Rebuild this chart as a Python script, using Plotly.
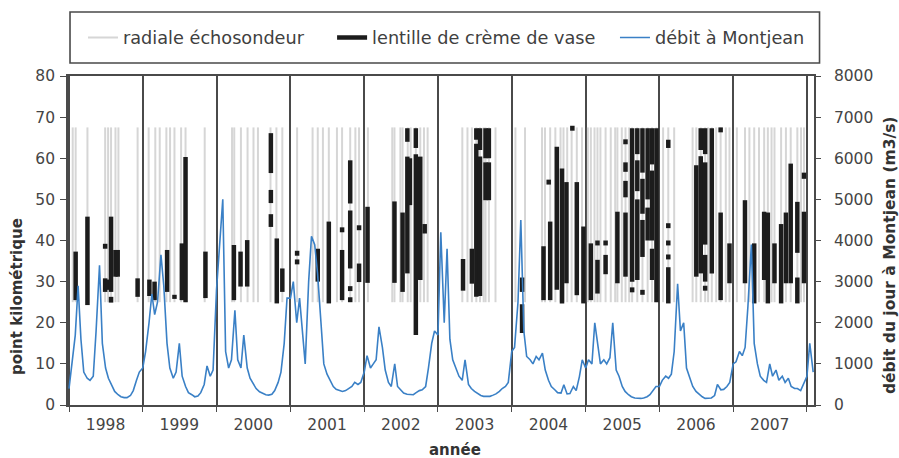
import pandas as pd
import plotly.graph_objects as go

# ---------------- data ----------------
years = [1998, 1999, 2000, 2001, 2002, 2003, 2004, 2005, 2006, 2007]
year_labels = ["1998", "1999", "2000", "2001", "2002", "2003", "2004", "2005", "2006", "2007"]

# daily discharge at Montjean (m3/s), read on the 1st and 15th of each month
flow_1998 = [400, 1000, 1700, 2900, 1600, 800, 650, 600, 700, 1800, 3400, 1500,
             900, 650, 450, 330, 250, 200, 180, 180, 230, 350, 600, 800]
flow_1999 = [900, 1300, 2000, 2700, 2200, 2500, 3650, 2900, 1500, 900, 650, 800,
             1500, 700, 450, 300, 250, 200, 220, 300, 500, 950, 700, 850]
flow_2000 = [2800, 3800, 5000, 1300, 900, 1100, 2300, 1100, 900, 1700, 900, 650,
             500, 400, 320, 280, 250, 240, 260, 350, 550, 800, 1500, 2600]
flow_2001 = [2600, 3000, 2000, 2600, 1800, 1000, 3000, 4100, 3900, 3200, 2000, 1000,
             750, 600, 450, 380, 350, 330, 350, 400, 450, 550, 500, 550]
flow_2002 = [800, 1200, 900, 1000, 1100, 1900, 1400, 850, 550, 450, 1000, 450,
             350, 290, 260, 250, 250, 300, 350, 370, 450, 900, 1500, 1800]
flow_2003 = [1700, 4200, 2000, 3800, 1600, 1100, 850, 700, 600, 1100, 500, 400,
             330, 280, 230, 210, 200, 210, 240, 270, 330, 400, 450, 550]
flow_2004 = [1300, 1400, 2500, 4500, 1800, 1180, 1100, 1000, 1180, 1100, 1260, 850,
             600, 450, 370, 300, 290, 490, 270, 280, 450, 350, 690, 1100]
flow_2005 = [900, 1100, 1000, 2000, 1500, 1000, 1100, 1000, 1150, 2000, 850, 700,
             450, 330, 250, 200, 170, 160, 160, 170, 200, 250, 350, 450]
flow_2006 = [450, 600, 700, 650, 750, 1300, 2950, 1800, 2000, 900, 650, 450,
             330, 260, 200, 160, 160, 170, 230, 500, 370, 380, 450, 550]
flow_2007 = [1000, 1050, 1300, 1200, 1400, 2400, 3900, 1500, 1000, 700, 600, 550,
             1000, 700, 850, 600, 700, 550, 650, 450, 400, 400, 350, 500]
flow_2008 = [700, 1500, 800]

# echo-sounder radials (survey dates as decimal years), surveyed stretch in km
radial_years = [
    1998.05, 1998.09, 1998.25, 1998.49, 1998.53, 1998.57, 1998.63, 1998.67, 1998.93,
    1999.08, 1999.17, 1999.23, 1999.32, 1999.37, 1999.43, 1999.52, 1999.58, 1999.84,
    2000.21, 2000.24, 2000.33, 2000.42, 2000.50, 2000.56, 2000.73, 2000.81, 2000.89,
    2001.09, 2001.30, 2001.37, 2001.44, 2001.52, 2001.63, 2001.70, 2001.81, 2001.88, 2001.93,
    2002.05, 2002.38, 2002.41, 2002.49, 2002.52, 2002.59, 2002.63, 2002.70, 2002.76, 2002.81, 2002.86,
    2003.33, 2003.40, 2003.46, 2003.52, 2003.57, 2003.62, 2003.645, 2003.69, 2003.78,
    2004.05, 2004.18, 2004.41, 2004.45, 2004.52, 2004.59, 2004.66, 2004.70, 2004.75, 2004.81, 2004.88, 2004.95,
    2005.03, 2005.07, 2005.12, 2005.16, 2005.20, 2005.27, 2005.34, 2005.40, 2005.43, 2005.49,
    2005.54, 2005.59, 2005.63, 2005.70, 2005.77, 2005.84, 2005.90, 2005.96,
    2006.05, 2006.12, 2006.20, 2006.45, 2006.50, 2006.56, 2006.62, 2006.66, 2006.71, 2006.77,
    2006.83, 2006.90, 2006.95,
    2007.05, 2007.16, 2007.22, 2007.285, 2007.35, 2007.42, 2007.47, 2007.52, 2007.56, 2007.65,
    2007.715, 2007.78, 2007.87, 2007.92, 2007.96,
]
radial_from_km = 25.0
radial_to_km = 67.5

# fluid-mud lens detections: date (decimal year), lower and upper km
lens_years = [
    1998.09, 1998.25, 1998.49, 1998.49, 1998.53, 1998.57, 1998.57, 1998.63, 1998.66, 1998.93,
    1999.09, 1999.16, 1999.33, 1999.43, 1999.53, 1999.58, 1999.85,
    2000.235, 2000.325, 2000.415, 2000.735, 2000.735, 2000.735, 2000.815, 2000.89,
    2001.09, 2001.09, 2001.37, 2001.52, 2001.70, 2001.70, 2001.81, 2001.81, 2001.81, 2001.81,
    2001.93, 2001.93,
    2002.045, 2002.41, 2002.52, 2002.585, 2002.585, 2002.62, 2002.70, 2002.70, 2002.76, 2002.82,
    2003.34, 2003.46, 2003.52, 2003.52, 2003.57, 2003.57, 2003.645, 2003.645, 2003.69, 2003.69,
    2004.14, 2004.14, 2004.43, 2004.50, 2004.52, 2004.61, 2004.68, 2004.74, 2004.82, 2004.88, 2004.97,
    2005.07, 2005.16, 2005.16, 2005.27, 2005.27, 2005.43, 2005.54, 2005.54, 2005.54, 2005.54,
    2005.63, 2005.63, 2005.70, 2005.70, 2005.70, 2005.77, 2005.77, 2005.77, 2005.77,
    2005.84, 2005.84, 2005.90, 2005.90, 2005.90, 2005.96,
    2006.12, 2006.12, 2006.12, 2006.12, 2006.12, 2006.50, 2006.56, 2006.56, 2006.62, 2006.62,
    2006.62, 2006.62, 2006.71, 2006.83, 2006.83, 2006.95,
    2007.16, 2007.285, 2007.42, 2007.47, 2007.56, 2007.65, 2007.715, 2007.78, 2007.87, 2007.87,
    2007.96, 2007.96,
]
lens_bottom = [
    25.5, 24.3, 27.5, 38.0, 28.0, 27.5, 24.9, 31.2, 31.2, 26.3,
    26.5, 25.5, 27.5, 25.8, 25.5, 25.0, 26.0,
    25.5, 28.8, 28.8, 56.4, 49.1, 43.3, 24.7, 27.5,
    36.3, 34.2, 30.0, 24.7, 42.0, 25.5, 49.0, 33.2, 27.7, 25.0,
    42.5, 29.9,
    29.7, 29.7, 27.5, 64.0, 32.0, 48.6, 17.0, 62.5, 30.4, 41.7,
    27.8, 29.5, 26.3, 64.5, 26.5, 62.0, 49.8, 60.0, 49.8, 60.0,
    17.5, 27.5, 25.5, 53.6, 25.5, 28.0, 24.7, 29.6, 66.7, 26.7, 24.7,
    25.5, 27.1, 38.8, 38.8, 31.8, 29.6, 63.4, 56.7, 50.5, 31.2,
    27.4, 30.0, 30.4, 52.0, 61.0, 36.0, 46.5, 56.5, 26.8,
    40.0, 50.0, 30.4, 40.0, 58.5, 25.0,
    62.5, 43.0, 38.8, 35.4, 24.7, 31.2, 32.0, 62.0, 39.0, 61.0,
    30.0, 27.8, 32.0, 66.3, 25.5, 29.6,
    29.6, 24.7, 30.4, 24.7, 29.6, 24.7, 29.6, 29.6, 37.0, 24.7,
    55.0, 29.6,
]
lens_top = [
    37.3, 45.8, 30.8, 39.2, 30.5, 45.8, 26.3, 37.7, 37.7, 30.8,
    30.5, 30.0, 37.7, 26.8, 39.3, 60.3, 37.3,
    38.9, 37.3, 40.1, 66.1, 52.3, 46.4, 40.5, 33.2,
    37.5, 35.4, 38.0, 44.6, 43.2, 37.7, 59.5, 47.3, 28.9, 26.2,
    43.7, 34.4,
    48.2, 49.5, 46.8, 67.3, 60.4, 60.0, 61.0, 67.3, 60.4, 44.0,
    35.5, 38.0, 63.5, 67.3, 60.4, 67.3, 59.0, 67.3, 59.0, 67.3,
    24.5, 31.0, 38.6, 54.8, 44.6, 62.8, 57.5, 54.2, 67.9, 54.2, 43.4,
    39.3, 35.3, 40.0, 40.0, 36.5, 47.0, 64.6, 59.0, 54.5, 46.8,
    28.6, 67.3, 50.0, 59.5, 67.3, 45.0, 55.0, 67.3, 28.0,
    48.0, 67.3, 38.0, 57.0, 67.3, 67.3,
    64.5, 44.2, 40.0, 36.6, 33.5, 58.3, 60.5, 67.3, 59.0, 67.3,
    36.5, 29.0, 67.3, 67.5, 46.8, 39.3,
    49.8, 39.3, 47.0, 46.8, 39.3, 44.0, 46.8, 58.7, 49.4, 31.0,
    56.5, 47.0,
]

# ---------------- helpers ----------------
def dec_to_date(y):
    yr = int(y)
    start = pd.Timestamp(yr, 1, 1)
    end = pd.Timestamp(yr + 1, 1, 1)
    return start + (end - start) * (y - yr)


flow_series = {1998: flow_1998, 1999: flow_1999, 2000: flow_2000, 2001: flow_2001,
               2002: flow_2002, 2003: flow_2003, 2004: flow_2004, 2005: flow_2005,
               2006: flow_2006, 2007: flow_2007, 2008: flow_2008}
flow_dates, flow_vals = [], []
for yr, vals in flow_series.items():
    for i, v in enumerate(vals):
        flow_dates.append(pd.Timestamp(yr, i // 2 + 1, 1 if i % 2 == 0 else 15))
        flow_vals.append(v)

rx, ry = [], []
for y in radial_years:
    d = dec_to_date(y)
    rx += [d, d, None]
    ry += [radial_from_km, radial_to_km, None]

lx, ly = [], []
for y, b, t in zip(lens_years, lens_bottom, lens_top):
    d = dec_to_date(y)
    lx += [d, d, None]
    ly += [b, t, None]

# ---------------- figure ----------------
fig = go.Figure()
fig.add_trace(go.Scatter(x=rx, y=ry, mode="lines", name="radiale échosondeur",
                         line=dict(color="#d6d6d6", width=2), hoverinfo="skip",
                         legend="legend"))
fig.add_trace(go.Scatter(x=lx, y=ly, mode="lines", name="lentille de crème de vase",
                         line=dict(color="#1c1c1c", width=4.5), hoverinfo="skip",
                         legend="legend2"))
fig.add_trace(go.Scatter(x=flow_dates, y=flow_vals, mode="lines", name="débit à Montjean",
                         line=dict(color="#3a80c6", width=1.6), yaxis="y2",
                         legend="legend3"))

tick_font = dict(family="DejaVu Sans", size=15.5, color="#454545")
axis_col = "#4a4a4a"
legend_font = dict(family="DejaVu Sans", size=17.7, color="#404040")

jan_firsts = [pd.Timestamp(y, 1, 1) for y in years + [2008]]


def legend_at(xpos):
    return dict(orientation="h", x=xpos, y=1.1155, xanchor="left", yanchor="middle",
                font=legend_font, bgcolor="rgba(0,0,0,0)", borderwidth=0)


fig.update_layout(
    width=899, height=458,
    margin=dict(l=68, r=85, t=76, b=53),
    paper_bgcolor="white", plot_bgcolor="white",
    showlegend=True,
    xaxis=dict(
        type="date", range=["1997-12-27", "2008-02-05"],
        tickmode="array", tickvals=[pd.Timestamp(y, 7, 1) for y in years], ticktext=year_labels,
        ticks="", ticklabelstandoff=5, tickfont=tick_font,
        showgrid=False, zeroline=False,
        showline=True, linecolor=axis_col, linewidth=1.6, mirror=True,
        minor=dict(tickmode="array", tickvals=jan_firsts, ticks="outside", ticklen=5,
                   tickcolor=axis_col, tickwidth=1.4,
                   showgrid=True, gridcolor=axis_col, gridwidth=1.5),
    ),
    yaxis=dict(
        range=[0, 80], tickmode="linear", tick0=0, dtick=10,
        ticks="outside", ticklen=6, tickcolor=axis_col, tickwidth=1.4,
        ticklabelstandoff=2, tickfont=tick_font,
        showgrid=False, zeroline=False,
        showline=True, linecolor=axis_col, linewidth=1.6,
    ),
    yaxis2=dict(
        overlaying="y", side="right", range=[0, 8000], tickmode="linear", tick0=0, dtick=1000,
        ticks="outside", ticklen=5, tickcolor=axis_col, tickwidth=1.4,
        ticklabelstandoff=10, tickfont=tick_font,
        showgrid=False, zeroline=False,
        showline=True, linecolor=axis_col, linewidth=1.6,
    ),
    legend=legend_at(0.0201),
    legend2=legend_at(0.354),
    legend3=legend_at(0.7332),
    shapes=[dict(type="rect", xref="paper", yref="paper",
                 x0=0.0027, x1=1.0074, y0=1.0395, y1=1.1945,
                 line=dict(color=axis_col, width=1.6), fillcolor="rgba(0,0,0,0)")],
    annotations=[
        dict(text="<b>point kilométrique</b>", xref="paper", yref="paper",
             x=-0.0684, y=0.331, textangle=-90, showarrow=False,
             xanchor="center", yanchor="middle",
             font=dict(family="DejaVu Sans", size=15, color="#333333")),
        dict(text="<b>débit du jour à Montjean (m3/s)</b>", xref="paper", yref="paper",
             x=1.1019, y=0.4529, textangle=-90, showarrow=False,
             xanchor="center", yanchor="middle",
             font=dict(family="DejaVu Sans", size=15.5, color="#333333")),
        dict(text="<b>année</b>", xref="paper", yref="paper",
             x=0.5188, y=-0.1368, showarrow=False, xanchor="center", yanchor="middle",
             font=dict(family="DejaVu Sans", size=15, color="#333333")),
    ],
)

fig.write_html("out.html")
